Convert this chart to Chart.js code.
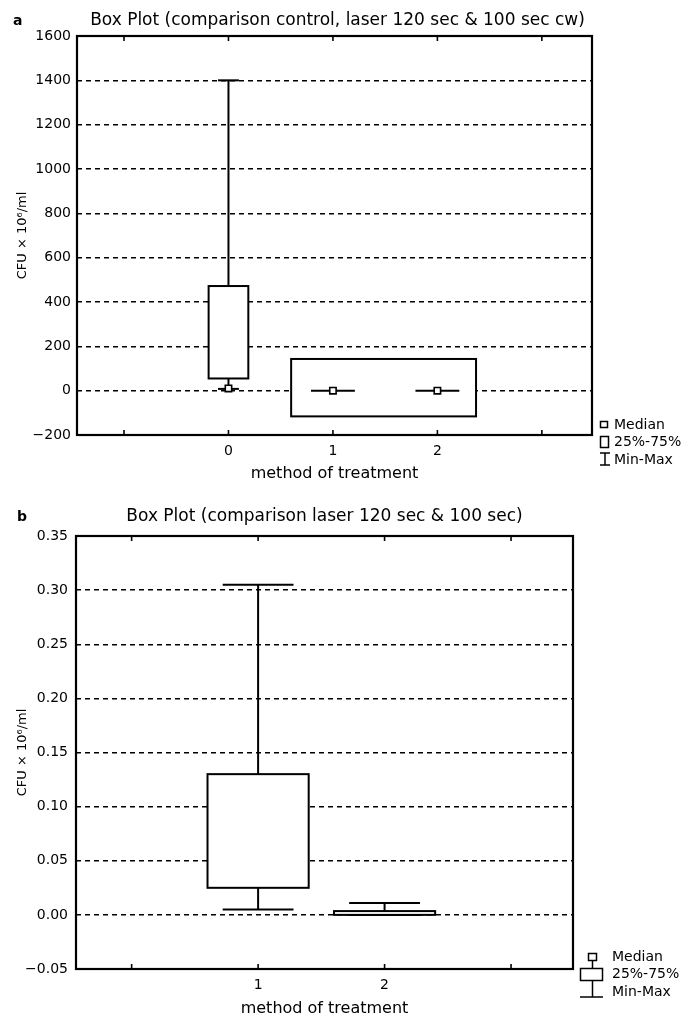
<!DOCTYPE html>
<html lang="en">
<head>
<meta charset="UTF-8">
<meta name="viewport" content="width=device-width, initial-scale=1.0">
<title>Box Plot</title>
<script src="https://cdn.jsdelivr.net/npm/chart.js@4.4.1/dist/chart.umd.min.js"></script>
<style>
  html, body { margin: 0; padding: 0; background: #fff; }
  #wrap { position: relative; width: 685px; height: 1018px; }
  .pane { position: absolute; left: 0; width: 685px; }
  #paneA { top: 0; height: 495px; }
  #paneB { top: 495px; height: 523px; }
</style>
</head>
<body>
<div id="wrap">
  <div class="pane" id="paneA"><canvas id="chartA"></canvas></div>
  <div class="pane" id="paneB"><canvas id="chartB"></canvas></div>
</div>
<script>
// ---- panel a values (CFU x 10^6/ml) ----
const groupsA = [0, 1, 2];
const minA = [8, null, null];
const q1A = [55, null, null];
const q3A = [472, null, null];
const maxA = [1400, null, null];
const medianA = [10, 0, 0];
// the odd rectangle round groups 1 and 2 (x from/to, y from/to)
const rectXA = [0.6, 2.37];
const rectYA = [-116, 143];
const yTicksA = [-200, 0, 200, 400, 600, 800, 1000, 1200, 1400, 1600];
const xLabelsA = ['0', '1', '2'];

// ---- panel b values ----
const groupsB = [1, 2];
const minB = [0.005, 0.0];
const q1B = [0.025, 0.0];
const q3B = [0.13, 0.0035];
const maxB = [0.305, 0.011];
const yTicksB = [-0.05, 0, 0.05, 0.10, 0.15, 0.20, 0.25, 0.30, 0.35];
const xLabelsB = ['1', '2'];

const FONT = '"DejaVu Sans", sans-serif';

function line(ctx, x1, y1, x2, y2) {
    ctx.beginPath();
    ctx.moveTo(x1, y1);
    ctx.lineTo(x2, y2);
    ctx.stroke();
}

function minus(s) {
    return s.replace('-', '\u2212');
}

// boxes and whiskers, drawn through the chart scales
function drawBoxes(chart, cfg) {
    const {ctx, scales: {x, y}} = chart;
    ctx.save();
    ctx.strokeStyle = '#000';
    ctx.fillStyle = '#fff';
    ctx.lineWidth = 2;
    if (cfg.rectX) {
        const l = x.getPixelForValue(cfg.rectX[0]), r = x.getPixelForValue(cfg.rectX[1]);
        const t = y.getPixelForValue(cfg.rectY[1]), b = y.getPixelForValue(cfg.rectY[0]);
        ctx.fillRect(l, t, r - l, b - t);
        ctx.strokeRect(l, t, r - l, b - t);
    }
    cfg.groups.forEach((g, i) => {
        const cx = x.getPixelForValue(g);
        if (cfg.max[i] != null) {
            const yMax = y.getPixelForValue(cfg.max[i]);
            const yMin = y.getPixelForValue(cfg.min[i]);
            const yQ1 = y.getPixelForValue(cfg.q1[i]);
            const yQ3 = y.getPixelForValue(cfg.q3[i]);
            const cl = x.getPixelForValue(g - cfg.capHalf), cr = x.getPixelForValue(g + cfg.capHalf);
            line(ctx, cx, yMax, cx, yQ3);
            line(ctx, cx, yQ1, cx, yMin);
            line(ctx, cl, yMax, cr, yMax);
            line(ctx, cl, yMin, cr, yMin);
            const bl = x.getPixelForValue(g - cfg.boxHalf), br = x.getPixelForValue(g + cfg.boxHalf);
            ctx.fillRect(bl, yQ3, br - bl, yQ1 - yQ3);
            ctx.strokeRect(bl, yQ3, br - bl, yQ1 - yQ3);
        }
        if (cfg.medLine && cfg.medLine[i]) {
            const ym = y.getPixelForValue(cfg.median[i]);
            line(ctx, x.getPixelForValue(g - cfg.medLine[i]), ym, x.getPixelForValue(g + cfg.medLine[i]), ym);
        }
    });
    ctx.restore();
}

// plot frame with the small inward ticks of the x axis
function drawFrame(chart) {
    const {ctx, chartArea: a, scales: {x}} = chart;
    ctx.save();
    ctx.strokeStyle = '#000';
    ctx.lineWidth = 2.2;
    ctx.strokeRect(a.left, a.top, a.right - a.left, a.bottom - a.top);
    ctx.lineWidth = 1.6;
    x.ticks.forEach(t => {
        const px = x.getPixelForValue(t.value);
        line(ctx, px, a.bottom, px, a.bottom - 5);
        line(ctx, px, a.top, px, a.top + 5);
    });
    ctx.restore();
}

function drawText(ctx, txt, x, y, font, align) {
    ctx.font = font;
    ctx.fillStyle = '#000';
    ctx.textAlign = align || 'left';
    ctx.textBaseline = 'middle';
    ctx.fillText(txt, x, y);
}

function makeChart(id, o) {
    const medPts = [];
    o.groups.forEach((g, i) => {
        if (o.median && o.median[i] != null) medPts.push({x: g, y: o.median[i]});
    });
    const yt = o.yTicks;
    return new Chart(document.getElementById(id), {
        type: 'scatter',
        data: {
            datasets: [{
                label: 'Median',
                data: medPts,
                pointStyle: 'rect',
                pointRadius: 4.5,
                backgroundColor: '#fff',
                borderColor: '#000',
                borderWidth: 1.6
            }]
        },
        options: {
            responsive: true,
            maintainAspectRatio: false,
            animation: false,
            events: [],
            layout: {padding: o.padding},
            plugins: {legend: {display: false}, tooltip: {enabled: false}},
            scales: {
                x: {
                    type: 'linear',
                    min: o.xMin,
                    max: o.xMax,
                    afterFit: s => { s.height = o.xHeight; },
                    grid: {display: false, drawTicks: false},
                    border: {display: false},
                    ticks: {
                        stepSize: 1,
                        includeBounds: false,
                        padding: 8,
                        color: '#000',
                        font: {family: FONT, size: 14},
                        callback: v => o.xLabels.includes(String(v)) ? String(v) : ''
                    },
                    title: {
                        display: true,
                        text: 'method of treatment',
                        color: '#000',
                        font: {family: FONT, size: 16},
                        padding: {top: 0, bottom: o.xTitlePad}
                    }
                },
                y: {
                    min: yt[0],
                    max: yt[yt.length - 1],
                    afterFit: s => { s.width = o.yWidth; },
                    grid: {color: '#000', lineWidth: 1.5, drawTicks: false},
                    border: {display: false, dash: [5, 4]},
                    ticks: {
                        stepSize: yt[1] - yt[0],
                        padding: o.yPad,
                        color: '#000',
                        font: {family: FONT, size: 14},
                        callback: v => minus(o.fmt(Math.abs(v) < 1e-9 ? 0 : v))
                    },
                    title: {
                        display: true,
                        text: 'CFU \u00d7 10\u2076/ml',
                        color: '#000',
                        font: {family: FONT, size: 13},
                        padding: {top: 15, bottom: 0}
                    }
                }
            }
        },
        plugins: [{
            id: 'box_' + id,
            beforeDatasetsDraw(chart) { drawBoxes(chart, o); },
            afterDatasetsDraw(chart) { drawFrame(chart); },
            afterDraw(chart) {
                const {ctx, chartArea: a} = chart;
                drawText(ctx, o.letter, o.letterX, o.titleY, 'bold 14px ' + FONT);
                drawText(ctx, o.title, (a.left + a.right) / 2 + o.titleShift, o.titleY, '17px ' + FONT, 'center');
                o.legend(ctx);
            }
        }]
    });
}

function legendA(ctx) {
    ctx.save();
    ctx.strokeStyle = '#000';
    ctx.lineWidth = 1.5;
    ctx.strokeRect(600.5, 421.5, 7, 6);
    ctx.strokeRect(600.5, 436.5, 8, 11);
    line(ctx, 605, 453, 605, 465);
    line(ctx, 600, 453, 610, 453);
    line(ctx, 600, 465, 610, 465);
    const f = '14px ' + FONT;
    drawText(ctx, 'Median', 614, 425, f);
    drawText(ctx, '25%-75%', 614, 442, f);
    drawText(ctx, 'Min-Max', 614, 460, f);
    ctx.restore();
}

function legendB(ctx) {
    ctx.save();
    ctx.strokeStyle = '#000';
    ctx.lineWidth = 1.5;
    ctx.strokeRect(588.5, 458.5, 8, 7);
    line(ctx, 592.5, 466, 592.5, 473);
    ctx.strokeRect(580.5, 473.5, 22, 12);
    line(ctx, 592.5, 486, 592.5, 502);
    line(ctx, 580, 502, 603, 502);
    const f = '14px ' + FONT;
    drawText(ctx, 'Median', 612, 462, f);
    drawText(ctx, '25%-75%', 612, 479, f);
    drawText(ctx, 'Min-Max', 612, 497, f);
    ctx.restore();
}

makeChart('chartA', {
    groups: groupsA, min: minA, q1: q1A, q3: q3A, max: maxA, median: medianA,
    medLine: [0, 0.21, 0.21], rectX: rectXA, rectY: rectYA,
    boxHalf: 0.19, capHalf: 0.1,
    yTicks: yTicksA, xLabels: xLabelsA, fmt: v => String(v),
    xMin: -1.45, xMax: 3.48,
    padding: {top: 36, right: 93, bottom: 10, left: 0},
    xHeight: 50, yWidth: 77, yPad: 6, xTitlePad: 2,
    letter: 'a', letterX: 13, titleY: 21, titleShift: 3,
    title: 'Box Plot (comparison control, laser 120 sec & 100 sec cw)',
    legend: legendA
});

makeChart('chartB', {
    groups: groupsB, min: minB, q1: q1B, q3: q3B, max: maxB, median: null,
    boxHalf: 0.4, capHalf: 0.28,
    yTicks: yTicksB, xLabels: xLabelsB, fmt: v => v.toFixed(2),
    xMin: -0.44, xMax: 3.49,
    padding: {top: 41, right: 112, bottom: 0, left: 0},
    xHeight: 49, yWidth: 76, yPad: 8, xTitlePad: 0,
    letter: 'b', letterX: 17, titleY: 22, titleShift: 0,
    title: 'Box Plot (comparison laser 120 sec & 100 sec)',
    legend: legendB
});
</script>
</body>
</html>
